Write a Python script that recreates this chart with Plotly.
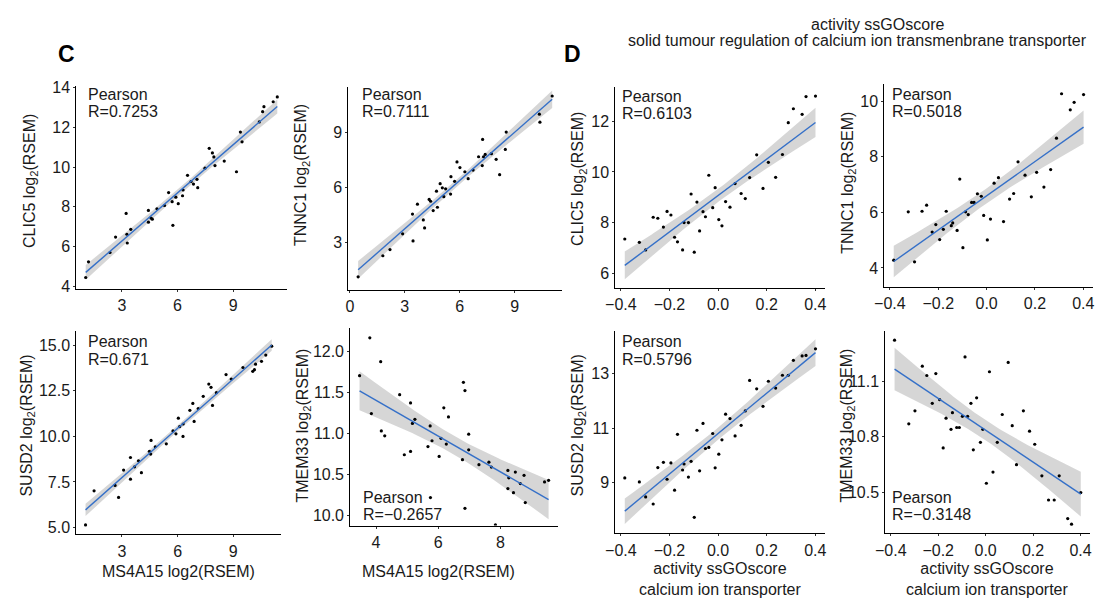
import numpy as np
import plotly.graph_objects as go

W, H = 1095, 604

# ---------------- data ----------------
# Panel C, top-left: MS4A15 vs CLIC5
c1_x = [1.05, 1.20, 2.36, 2.66, 3.23, 3.27, 3.29, 3.48, 4.43, 4.43, 4.57, 4.64, 4.89, 5.30, 5.52,
        5.71, 5.75, 5.91, 6.04, 6.27, 6.30, 6.54, 6.73, 6.86, 7.05, 7.09, 7.48, 7.71, 7.88, 7.96,
        8.02, 8.52, 9.18, 9.39, 9.48, 10.41, 10.59, 10.66, 11.16, 11.38]
c1_y = [4.44, 5.23, 5.70, 6.48, 7.67, 6.62, 6.18, 6.87, 7.82, 7.23, 7.44, 7.38, 7.90, 8.07, 8.72,
        8.26, 7.07, 8.49, 8.16, 8.56, 8.85, 9.59, 9.28, 9.15, 9.39, 8.97, 9.95, 10.95, 10.72, 10.52,
        10.08, 10.31, 9.77, 11.77, 11.28, 12.28, 12.80, 13.05, 13.30, 13.54]

# Panel C, top-right: MS4A15 vs TNNC1
c2_x = [0.45, 1.80, 2.19, 2.88, 3.42, 3.45, 3.69, 4.01, 4.08, 4.33, 4.41, 4.55, 4.73, 4.78, 4.93,
        5.05, 5.13, 5.23, 5.50, 5.52, 5.72, 5.85, 6.01, 6.28, 6.46, 6.73, 7.25, 7.03, 7.23, 7.30,
        7.39, 7.73, 7.99, 8.18, 8.49, 8.54, 10.35, 10.38, 11.05]
c2_y = [1.11, 2.26, 2.60, 3.46, 4.54, 3.07, 5.08, 4.22, 3.78, 5.34, 5.24, 4.73, 5.79, 4.91, 6.20,
        5.97, 5.49, 5.92, 5.63, 6.58, 6.33, 7.39, 7.08, 6.85, 6.47, 6.94, 8.62, 7.67, 7.19, 7.67,
        7.80, 7.84, 7.53, 6.69, 8.07, 9.02, 10.00, 9.56, 10.99]

# Panel C, bottom-left: MS4A15 vs SUSD2
c3_x = [1.04, 1.50, 2.63, 2.82, 3.09, 3.46, 3.46, 3.68, 3.89, 4.05, 4.48, 4.55, 4.57, 4.80, 5.39,
        5.75, 5.91, 6.04, 6.11, 6.29, 6.30, 6.66, 6.82, 6.89, 7.11, 7.38, 7.68, 7.80, 7.88, 8.09,
        8.61, 8.89, 9.52, 10.05, 10.14, 10.20, 10.52, 10.75, 11.07]
c3_y = [5.14, 7.01, 7.31, 6.65, 8.15, 8.84, 7.65, 8.33, 8.66, 8.01, 9.18, 9.03, 9.78, 9.43, 9.59,
        10.30, 10.14, 11.00, 10.54, 10.00, 10.68, 11.43, 11.81, 10.82, 11.53, 12.20, 12.87, 12.69, 11.70, 12.40,
        13.39, 13.15, 13.78, 13.57, 13.66, 13.96, 14.12, 14.46, 14.95]

# Panel C, bottom-right: MS4A15 vs TMEM33
c4_x = [3.47, 3.80, 3.85, 4.15, 4.17, 4.28, 4.76, 4.91, 5.11, 5.11, 5.17, 5.25, 5.67, 5.74, 5.75,
        5.80, 6.03, 6.09, 6.18, 6.26, 6.33, 6.78, 6.81, 6.86, 6.86, 6.98, 6.98, 7.31, 7.63, 7.71,
        7.84, 8.24, 8.27, 8.24, 8.42, 8.48, 8.64, 8.76, 8.80, 9.42, 9.55]
c4_y = [11.70, 12.16, 11.24, 11.87, 11.03, 10.97, 11.47, 10.74, 11.37, 10.78, 11.12, 11.17, 10.84, 11.09, 10.22,
        10.91, 10.72, 10.94, 11.31, 10.87, 11.20, 10.68, 11.62, 11.52, 10.09, 10.99, 10.80, 10.62, 10.65, 10.59,
        9.89, 10.55, 10.46, 10.33, 10.28, 10.53, 10.39, 10.49, 10.16, 10.41, 10.43]

# Panel D: activity ssGOscore (shared by the four D panels)
d_x = [-0.384, -0.324, -0.298, -0.267, -0.248, -0.225, -0.210, -0.194, -0.179, -0.167,
       -0.146, -0.140, -0.122, -0.111, -0.098, -0.087, -0.076, -0.062, -0.052, -0.038,
       -0.022, -0.012, 0.003, 0.016, 0.031, 0.049, 0.070, 0.095, 0.112, 0.130,
       0.159, 0.185, 0.207, 0.237, 0.265, 0.289, 0.310, 0.346, 0.362, 0.401]
d1_y = [7.35, 7.22, 6.92, 8.21, 8.17, 7.82, 8.44, 8.30, 7.42, 7.24, 6.92, 8.00, 8.00, 9.13, 6.83,
        8.81, 7.67, 8.43, 8.23, 9.87, 8.59, 9.38, 8.12, 7.87, 8.83, 8.61, 9.54, 9.15, 8.95, 9.78,
        10.68, 9.35, 10.38, 9.79, 10.69, 11.95, 12.50, 12.28, 12.98, 13.00]
d2_y = [4.28, 6.02, 4.22, 6.04, 6.26, 5.29, 5.56, 5.02, 5.39, 6.04, 5.52, 5.62, 5.35, 7.20, 4.73,
        6.02, 5.92, 6.36, 6.36, 6.67, 6.58, 5.89, 5.01, 5.76, 7.05, 7.25, 5.67, 6.48, 6.68, 7.82,
        7.34, 6.56, 7.44, 6.91, 7.54, 8.67, 10.27, 9.69, 9.96, 10.24]
d3_y = [9.17, 9.02, 8.47, 8.21, 9.55, 9.74, 9.12, 9.72, 8.72, 10.77, 9.46, 9.68, 9.20, 9.78, 7.72,
        10.92, 9.43, 11.17, 10.25, 10.29, 10.80, 9.54, 10.04, 10.57, 11.51, 11.35, 10.71, 11.10, 11.63, 12.75,
        12.44, 11.80, 12.72, 12.47, 12.94, 12.94, 13.49, 13.65, 13.67, 13.91]
d4_y = [11.32, 10.87, 10.94, 11.18, 11.13, 10.98, 11.14, 11.00, 10.74, 10.90, 10.84, 10.93, 10.85, 10.85, 10.91,
        11.23, 10.91, 10.98, 10.73, 11.01, 10.77, 10.84, 10.55, 11.15, 10.61, 10.77, 10.92, 11.20, 10.86, 10.65,
        10.94, 10.83, 10.76, 10.59, 10.46, 10.46, 10.59, 10.36, 10.33, 10.50]

panel_genes = ["CLIC5", "TNNC1", "SUSD2", "TMEM33", "CLIC5", "TNNC1", "SUSD2", "TMEM33"]
panel_r = ["R=0.7253", "R=0.7111", "R=0.671", "R=\u22120.2657",
           "R=0.6103", "R=0.5018", "R=0.5796", "R=\u22120.3148"]

ms_ticks_a = [3, 6, 9]
ms_ticks_b = [0, 3, 6, 9]
ms_ticks_c = [4, 6, 8]
d_ticks = [-0.4, -0.2, 0.0, 0.2, 0.4]
d_ticktext = ["\u22120.4", "\u22120.2", "0.0", "0.2", "0.4"]
y_ticks = [[4, 6, 8, 10, 12, 14], [3, 6, 9], [5.0, 7.5, 10.0, 12.5, 15.0], [10.0, 10.5, 11.0, 11.5, 12.0],
           [6, 8, 10, 12], [4, 6, 8, 10], [9, 11, 13], [10.5, 10.8, 11.1]]
y_ticktext = [["4", "6", "8", "10", "12", "14"], ["3", "6", "9"],
              ["5.0", "7.5", "10.0", "12.5", "15.0"], ["10.0", "10.5", "11.0", "11.5", "12.0"],
              ["6", "8", "10", "12"], ["4", "6", "8", "10"], ["9", "11", "13"], ["10.5", "10.8", "11.1"]]

title_line1 = "activity ssGOscore"
title_line2 = "solid tumour regulation of calcium ion transmenbrane transporter"
xlab_c = "MS4A15 log2(RSEM)"
xlab_d = "activity ssGOscore<br>calcium ion transporter"

# ---------------- helpers ----------------
FONT = "Liberation Sans, Arial, sans-serif"
TXT = "#1a1a1a"


def t_quant(df):
    z = 1.959964
    return (z + (z**3 + z) / (4 * df) + (5 * z**5 + 16 * z**3 + 3 * z) / (96 * df**2)
            + (3 * z**7 + 19 * z**5 + 17 * z**3 - 15 * z) / (384 * df**3))


def lm_band(x, y):
    x = np.asarray(x, float)
    y = np.asarray(y, float)
    n = len(x)
    b1, b0 = np.polyfit(x, y, 1)
    xs = np.linspace(x.min(), x.max(), 80)
    yh = b0 + b1 * xs
    res = y - (b0 + b1 * x)
    s = np.sqrt(np.sum(res**2) / (n - 2))
    se = s * np.sqrt(1.0 / n + (xs - x.mean())**2 / np.sum((x - x.mean())**2))
    t = t_quant(n - 2)
    return xs, yh, yh - t * se, yh + t * se


def px2x(px):
    return px / W


def px2y(py):
    return 1 - py / H


panels = [
    # x data, y data, pixel box (x0, x1, y0, y1), xrange, yrange, xticks, xticktext
    (c1_x, c1_y, (67, 280, 81, 288), [0.54, 11.9], [3.87, 14.08], ms_ticks_a, None),
    (c2_x, c2_y, (342, 558, 82, 289), [-0.09, 11.58], [0.40, 11.47], ms_ticks_b, None),
    (c3_x, c3_y, (67, 274, 331, 539), [0.54, 11.57], [4.62, 15.79], ms_ticks_a, None),
    (c4_x, c4_y, (344, 554, 328, 530), [3.17, 9.85], [9.88, 12.28], ms_ticks_c, None),
    (d_x, d1_y, (612, 824, 82, 287), [-0.423, 0.44], [5.42, 13.35], d_ticks, d_ticktext),
    (d_x, d2_y, (884, 1095, 79, 286), [-0.423, 0.44], [3.32, 10.61], d_ticks, d_ticktext),
    (d_x, d3_y, (612, 824, 331, 538), [-0.423, 0.44], [7.13, 14.57], d_ticks, d_ticktext),
    (d_x, d4_y, (885, 1092, 331, 538), [-0.423, 0.44], [10.28, 11.37], d_ticks, d_ticktext),
]

# y-title centres (px) and Pearson text positions (px)
ytitle_pos = [(20, 178), (295, 172), (18, 428), (297, 428), (575, 176), (847, 180), (575, 428), (847, 428)]
pearson_pos = [(77, 89), (354, 89), (77, 342), (355, 501), (617, 91), (890, 89), (617, 342), (890, 501)]

fig = go.Figure()
layout = dict(
    width=W, height=H, margin=dict(l=0, r=0, t=0, b=0),
    paper_bgcolor="white", plot_bgcolor="white", showlegend=False,
    font=dict(family=FONT, color=TXT, size=16),
)
annotations = []

for i, (xd, yd, box, xr, yr, xt, xtt) in enumerate(panels):
    k = i + 1
    xa = "x" if k == 1 else f"x{k}"
    ya = "y" if k == 1 else f"y{k}"
    xs, yh, lo, hi = lm_band(xd, yd)
    fig.add_trace(go.Scatter(
        x=list(xs) + list(xs[::-1]), y=list(lo) + list(hi[::-1]),
        fill="toself", fillcolor="rgba(153,153,153,0.4)", line=dict(width=0),
        mode="lines", hoverinfo="skip", xaxis=xa, yaxis=ya))
    fig.add_trace(go.Scatter(
        x=xd, y=yd, mode="markers", marker=dict(color="black", size=3.2),
        xaxis=xa, yaxis=ya))
    fig.add_trace(go.Scatter(
        x=xs, y=yh, mode="lines", line=dict(color="#3570C8", width=1.4),
        xaxis=xa, yaxis=ya))

    x0, x1, y0, y1 = box
    axcommon = dict(showline=True, linecolor="black", linewidth=1, ticks="outside",
                    ticklen=2, tickcolor="#333333", showgrid=False, zeroline=False,
                    tickfont=dict(family=FONT, size=16, color=TXT))
    xkey = "xaxis" if k == 1 else f"xaxis{k}"
    ykey = "yaxis" if k == 1 else f"yaxis{k}"
    xdict = dict(axcommon, domain=[px2x(x0), px2x(x1)], range=xr, anchor=ya,
                 tickvals=xt)
    if xtt is not None:
        xdict["ticktext"] = xtt
    layout[xkey] = xdict
    layout[ykey] = dict(axcommon, domain=[px2y(y1), px2y(y0)], range=yr, anchor=xa,
                        tickvals=y_ticks[i], ticktext=y_ticktext[i])

for i in range(8):
    tx, ty = ytitle_pos[i]
    annotations.append(dict(
        text=f"{panel_genes[i]} log<sub>2</sub>(RSEM)", x=px2x(tx), y=px2y(ty),
        xref="paper", yref="paper", showarrow=False, textangle=-90,
        xanchor="center", yanchor="middle", font=dict(size=16, color=TXT, family=FONT)))
    px_, py_ = pearson_pos[i]
    annotations.append(dict(
        text="Pearson", x=px2x(px_), y=px2y(py_), xref="paper", yref="paper",
        showarrow=False, xanchor="left", yanchor="middle",
        font=dict(size=16, color=TXT, family=FONT)))
    annotations.append(dict(
        text=panel_r[i], x=px2x(px_), y=px2y(py_ + 18), xref="paper", yref="paper",
        showarrow=False, xanchor="left", yanchor="middle",
        font=dict(size=16, color=TXT, family=FONT)))

# x titles
for cx in (170, 433):
    annotations.append(dict(text=xlab_c, x=px2x(cx), y=px2y(577), xref="paper", yref="paper",
                            showarrow=False, xanchor="center", yanchor="middle",
                            font=dict(size=16, color=TXT, family=FONT)))
for cx in (718, 988):
    annotations.append(dict(text=xlab_d, x=px2x(cx), y=px2y(585), xref="paper", yref="paper",
                            showarrow=False, xanchor="center", yanchor="middle", align="center",
                            font=dict(size=16, color=TXT, family=FONT)))

# panel letters
annotations.append(dict(text="<b>C</b>", x=px2x(57), y=px2y(48), xref="paper", yref="paper",
                        showarrow=False, xanchor="center", yanchor="middle",
                        font=dict(size=23, color="black", family=FONT)))
annotations.append(dict(text="<b>D</b>", x=px2x(569), y=px2y(48), xref="paper", yref="paper",
                        showarrow=False, xanchor="center", yanchor="middle",
                        font=dict(size=23, color="black", family=FONT)))
# top title
annotations.append(dict(text=title_line1, x=px2x(877), y=px2y(18), xref="paper", yref="paper",
                        showarrow=False, xanchor="center", yanchor="middle",
                        font=dict(size=16, color=TXT, family=FONT)))
annotations.append(dict(text=title_line2, x=px2x(857), y=px2y(34), xref="paper", yref="paper",
                        showarrow=False, xanchor="center", yanchor="middle",
                        font=dict(size=16, color=TXT, family=FONT)))

layout["annotations"] = annotations
fig.update_layout(**layout)
fig.write_html("out.html", config={"displayModeBar": False},
               post_script="document.body.style.margin='0';document.body.style.overflow='hidden';")
